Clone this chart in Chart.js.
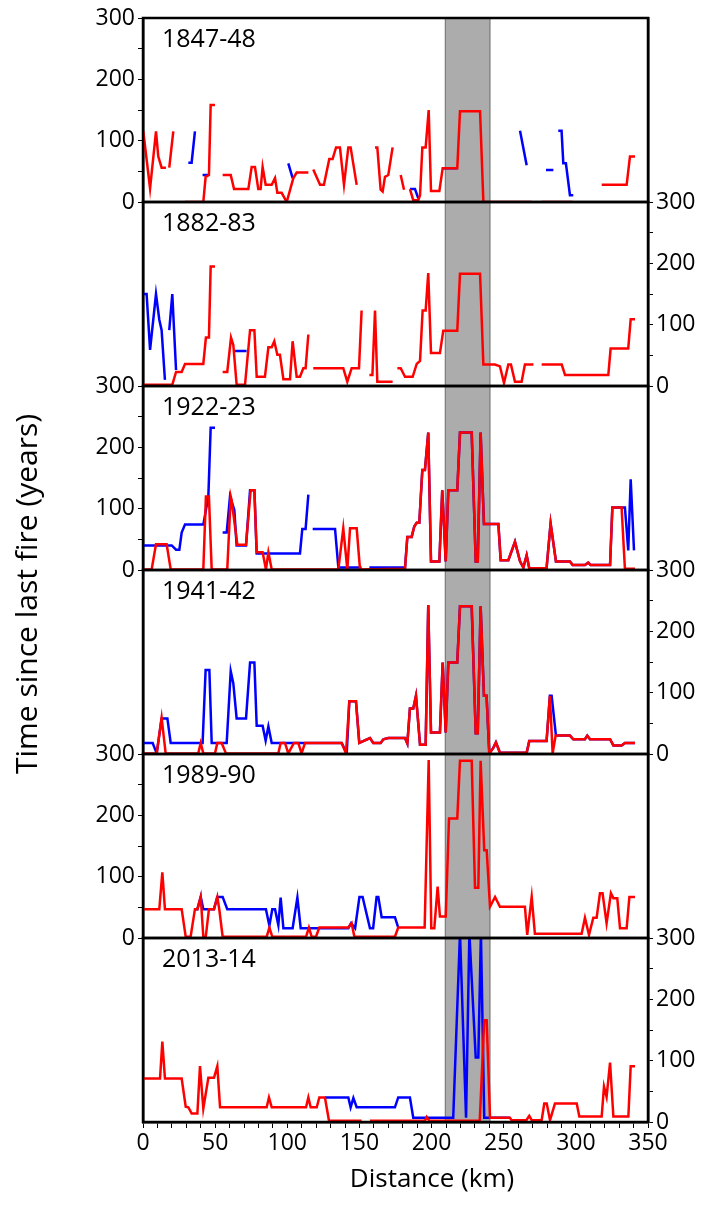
<!DOCTYPE html>
<html>
<head>
<meta charset="utf-8">
<script src="https://cdn.jsdelivr.net/npm/chart.js@4.4.0/dist/chart.umd.min.js"></script>
<style>
html, body { margin: 0; padding: 0; background: #fff; }
#fireChart { display: block; }
</style>
</head>
<body>
<canvas id="fireChart" width="721" height="1207"></canvas>
<script>
// panels, top to bottom
var seasons = ['1847-48', '1882-83', '1922-23', '1941-42', '1989-90', '2013-14'];
var distanceTicks = [0, 50, 100, 150, 200, 250, 300, 350];
var timeTicks = [0, 100, 200, 300];
var bandStart = 209.5, bandEnd = 240.5; // shaded zone, km

// [distance km, years since last fire], null = gap
var red1847 = [[0.2,115],[4.9,22],[9.0,115],[10.6,74],[12.9,56],[15.9,56],null,
  [18.2,56],[21.0,115],null,
  [29.1,0],[41.8,0],[43.4,41],[45.7,44],[46.9,158],[49.9,158],null,
  [55.2,44],[60.8,44],[63.1,21],[73.0,21],[75.3,57],[77.6,57],[79.9,21],[81.5,21],[82.9,57],[85.0,28],[89.2,28],[91.5,39],[93.1,15],[96.1,15],[99.6,0],[104.2,39],[106.5,48],[114.6,48],null,
  [118.0,53],[122.7,28],[125.4,28],[129.1,70],[131.4,70],[133.8,89],[136.5,89],[139.3,28],[142.3,89],[143.9,89],[148.1,28],null,
  [160.8,89],[162.4,89],[164.7,20],[166.1,17],[167.7,41],[170.0,44],[173.0,89],null,
  [178.6,44],[180.9,20],null,
  [185.0,21],[187.3,3],[190.8,3],[192.0,11],[193.6,89],[195.9,89],[198.0,150],[199.6,18],[205.4,18],[207.7,55],[217.8,55],[219.7,148],[233.6,148],[235.9,0],[269.3,0],null,
  [276.3,0],[297.7,0],null,
  [317.9,28],[335.2,28],[337.5,74],[341.0,74]];
var blue1847 = [[31.4,64],[33.7,64],[36.0,115],null,
  [41.3,44],[45.3,44],null,
  [100.7,63],[103.7,39],null,
  [185.0,21],[188.5,21],[190.8,6],null,
  [207.7,55],[217.8,55],null,
  [261.3,116],[265.9,60],null,
  [279.3,52],[284.4,52],null,
  [287.8,116],[290.1,116],[291.3,63],[293.1,63],[295.9,11],[298.2,11]];

var red1882 = [[0.2,2],[20.3,2],[22.9,23],[26.8,23],[29.1,36],[41.8,36],[43.6,79],[45.7,79],[46.9,195],[49.9,195],null,
  [55.2,23],[58.4,23],[61.0,79],[62.6,67],[64.9,2],[70.7,2],[74.2,91],[77.2,91],[78.8,15],[84.5,15],[86.9,63],[89.2,63],[91.0,73],[93.1,51],[94.9,51],[97.3,11],[101.9,11],[103.7,73],[106.5,15],[108.8,15],[111.1,29],[112.7,29],[114.6,84],null,
  [118.0,29],[138.8,29],[141.6,7],[144.6,29],[149.7,29],[151.5,123],null,
  [156.9,18],[159.0,18],[160.8,123],[162.4,7],[173.0,7],null,
  [176.3,29],[178.6,29],[181.6,15],[186.9,15],[189.7,36],[192.0,41],[193.8,123],[195.9,123],[197.7,184],[199.6,54],[205.8,54],[208.1,90],[217.8,90],[219.7,183],[233.6,183],[235.9,35],[244.0,35],[247.4,32],[250.2,5],[253.2,35],[255.0,35],[257.8,7],[262.4,7],[264.7,35],[270.6,35],null,
  [276.3,35],[290.2,35],[292.5,18],[322.5,18],[324.1,61],[336.3,61],[338.0,109],[341.0,109]];
var blue1882 = [[0.2,150],[2.5,150],[4.9,59],[9.0,150],[11.3,108],[12.9,91],[15.2,10],null,
  [18.2,91],[20.3,150],[22.9,26],null,
  [63.8,57],[71.8,57]];

var red1922 = [[0.2,1],[6.0,1],[9.0,42],[16.4,42],[19.2,1],[41.8,1],[43.6,120],[45.7,120],[47.6,1],[58.4,1],[60.8,120],[61.4,114],[65.4,41],[71.4,41],[74.6,130],[77.2,130],[78.8,29],[82.9,29],[85.2,1],[86.9,29],[89.2,1],[135.4,1],[138.8,68],[141.6,1],[143.5,68],[148.1,68],[150.4,1],[181.6,2],
  [183.2,54],[186.2,54],[188.0,71],[189.7,77],[191.5,77],[193.6,163],[195.4,163],[197.7,224],[199.6,14],[205.4,14],[207.4,130],[209.8,14],[211.6,130],[217.8,130],[219.7,224],[227.8,224],[230.6,14],[232.0,14],[234.0,224],[236.3,75],[246.3,75],[247.9,16],[253.2,16],[257.8,46],[261.3,14],[263.6,4],[265.9,24],[267.7,3],[279.7,3],[282.5,76],[286.2,14],[295.9,14],[297.8,8],[306.3,8],[308.6,12],[310.3,8],[323.7,8],[325.3,102],[331.7,102],[334.0,2],[341.0,2]];
var blue1922 = [[0.2,40],[19.9,40],[22.9,33],[25.2,33],[26.8,61],[29.1,74],[41.8,74],[45.3,120],[46.9,232],[49.9,232],null,
  [55.2,61],[58.0,61],[60.3,120],[63.3,98],[64.9,40],[71.4,40],[74.2,130],[77.2,130],[78.8,27],[108.8,27],[110.4,67],[112.7,67],[114.6,123],null,
  [117.6,67],[133.1,67],[135.4,4],[151.5,4],null,
  [156.9,4],[181.6,4],[183.2,54],[186.2,54],[188.0,71],[189.7,77],[191.5,77],[193.6,163],[195.4,163],[197.7,224],[199.6,14],[205.4,14],[207.4,130],[209.8,14],[211.6,130],[217.8,130],[219.7,224],[227.8,224],[230.6,14],[232.0,14],[234.0,224],[236.3,75],[246.3,75],[247.9,16],[253.2,16],[257.8,46],[261.3,14],[263.6,4],[265.9,24],[267.7,3],[279.7,3],[282.5,76],[286.2,14],[295.9,14],[297.8,8],[306.3,8],[308.6,12],[310.3,8],[323.7,8],[325.3,102],[334.0,102],[336.3,32],[338.0,148],[340.3,32]];

var red1941 = [[0.2,1],[9.5,1],[12.9,59],[15.7,1],[38.3,1],[40.0,18],[41.8,1],[49.9,1],[51.5,18],[54.5,18],[57.5,1],[93.8,1],[95.4,18],[98.4,18],[100.7,1],[104.6,18],[107.6,18],[109.9,1],[112.3,18],[137.7,18],[140.7,1],[143.0,86],[147.6,86],[149.9,18],[157.3,26],[159.6,18],[164.7,18],[166.6,24],[170.0,26],[181.6,26],[183.2,17],[185.0,74],[187.3,74],[189.2,95],[192.0,15],[195.9,15],[197.7,243],[199.6,35],[205.8,35],[207.7,149],[209.8,35],[211.6,149],[217.8,149],[219.7,241],[227.8,241],[230.6,34],[232.0,34],[234.0,241],[236.3,95],[238.1,95],[240.0,1],[242.8,10],[244.6,19],[247.4,2],[265.9,2],[267.7,21],[279.7,21],[282.0,95],[283.9,1],[286.0,30],[295.9,30],[298.2,24],[306.3,24],[307.9,30],[309.8,24],[323.7,24],[326.0,14],[331.7,14],[334.0,18],[341.0,18]];
var blue1941 = [[0.2,18],[6.7,18],[9.5,1],[12.9,58],[16.9,58],[19.2,18],[41.3,18],[43.4,137],[46.0,137],[47.6,18],[58.0,18],[60.8,135],[62.6,115],[64.9,58],[71.4,58],[74.2,149],[77.2,149],[78.8,46],[82.9,46],[85.0,22],[86.9,45],[89.2,18],[137.7,18],[141.2,1],[143.0,86],[147.6,86],[149.9,18],[157.3,26],[159.6,18],[164.7,18],[166.6,24],[170.0,26],[181.6,26],[183.2,17],[185.0,74],[187.3,74],[189.2,95],[192.0,15],[195.9,15],[197.7,243],[199.6,35],[205.8,35],[207.7,149],[209.8,35],[211.6,149],[217.8,149],[219.7,241],[227.8,241],[230.6,34],[232.0,34],[234.0,241],[236.3,95],[238.1,95],[240.0,1],[242.8,10],[244.6,19],[247.4,2],[265.9,2],[267.7,21],[279.7,21],[282.0,95],[283.2,95],[286.2,30],[295.9,30],[298.2,24],[306.3,24],[307.9,30],[309.8,24],[323.7,24],[326.0,14],[331.7,14],[334.0,18],[341.0,18]];

var red1989 = [[0.2,47],[11.3,47],[13.4,107],[15.2,47],[26.8,47],[29.6,2],[33.0,2],[36.0,47],[37.7,47],[40.0,67],[41.8,2],[43.5,2],[45.7,47],[49.2,47],[51.5,67],[52.9,46],[55.2,2],[85.7,2],[87.6,17],[89.6,2],[113.0,2],[115.0,17],[116.9,2],[119.9,2],[122.2,17],[142.3,17],[144.6,24],[146.5,2],[174.6,2],[176.9,17],[195.2,17],[198.0,290],[199.8,16],[201.9,16],[204.2,84],[205.8,35],[209.8,35],[212.1,195],[217.8,195],[219.7,289],[227.8,289],[230.1,82],[232.4,82],[234.0,289],[236.5,143],[238.2,143],[240.5,51],[244.0,67],[247.4,51],[264.7,51],[266.3,5],[269.4,67],[271.6,7],[304.0,7],[306.3,33],[309.1,5],[312.1,33],[314.4,33],[316.7,73],[318.5,73],[321.3,24],[324.3,73],[326.0,65],[328.7,65],[330.6,16],[335.2,16],[337.1,67],[341.0,67]];
var blue1989 = [[36.0,47],[37.7,47],[40.0,67],[41.8,47],[49.2,47],[51.5,67],[55.2,67],[58.4,47],[85.2,47],[87.6,20],[89.6,47],[91.5,47],[93.8,21],[95.4,66],[97.3,16],[103.7,16],[107.0,66],[109.3,16],[142.3,16],[144.2,24],[147.0,16],[150.0,67],[152.2,67],[157.3,16],[159.5,16],[161.9,67],[163.1,67],[165.4,34],[174.6,34],[176.9,17]];

var red2013 = [[0.2,71],[11.8,71],[13.4,131],[15.2,71],[26.8,71],[29.6,25],[31.4,24],[33.7,14],[37.7,14],[39.5,91],[41.8,22],[45.3,72],[49.2,72],[51.5,91],[53.4,24],[85.7,24],[87.3,40],[89.2,24],[113.0,24],[114.6,40],[116.2,24],[120.4,24],[122.2,40],[126.1,40],[128.9,2],[151.5,2],null,
  [157.3,2],[195.4,2],[196.6,8],[198.4,2],[233.4,2],[236.5,166],[238.2,166],[240.5,7],[254.3,7],[255.4,3],[265.7,3],[267.7,10],[269.4,3],[276.3,3],[278.1,30],[279.8,30],[282.1,3],[285.5,30],[300.6,30],[302.4,9],[317.9,9],[319.5,58],[321.3,41],[323.7,97],[326.0,9],[336.4,9],[338.0,91],[341.0,91]];
var blue2013 = [[126.1,40],[142.3,40],[143.9,24],[145.8,39],[148.1,24],[174.6,24],[176.9,40],[185.0,40],[187.3,7],[215.0,7],[219.7,308],[223.9,7],[226.2,308],[230.6,105],[232.4,105],[234.2,308],[236.5,7],[254.3,7]];

var redSeries = [red1847, red1882, red1922, red1941, red1989, red2013];
var blueSeries = [blue1847, blue1882, blue1922, blue1941, blue1989, blue2013];

var FONT = '"Open Sans", sans-serif';

function toPoints(arr) {
    var out = [], lastX = 0;
    arr.forEach(function (p) {
        if (p) { lastX = p[0]; out.push({x: p[0], y: p[1]}); }
        else { out.push({x: lastX, y: null}); }
    });
    return out;
}

var datasets = [];
seasons.forEach(function (s, i) {
    datasets.push({
        label: s + ' red', data: toPoints(redSeries[i]), yAxisID: 'y' + i,
        borderColor: '#ff0000', borderWidth: 2.5, pointRadius: 0, spanGaps: false, order: 1
    });
    datasets.push({
        label: s + ' blue', data: toPoints(blueSeries[i]), yAxisID: 'y' + i,
        borderColor: '#0000ff', borderWidth: 2.5, pointRadius: 0, spanGaps: false, order: 2
    });
});

var scales = {
    x: {
        type: 'linear', position: 'bottom', min: 0, max: 350,
        ticks: {
            stepSize: 10, autoSkip: false, maxRotation: 0, color: '#000', padding: 2,
            font: {family: FONT, size: 23},
            callback: function (v) { return distanceTicks.indexOf(v) >= 0 ? String(v) : ''; }
        },
        grid: {drawOnChartArea: false, color: '#000', tickLength: 6, lineWidth: 1},
        border: {color: '#000', width: 2.5},
        afterFit: function (s) { s.height = 85; }
    }
};

seasons.forEach(function (s, i) {
    var labelLeft = i % 2 === 0;
    function yAxis(pos, showLabels, w, weight) {
        return {
            type: 'linear', position: pos, stack: pos, stackWeight: 1, weight: weight,
            min: 0, max: 300,
            ticks: {
                display: showLabels, stepSize: 50, autoSkip: false, color: '#000', padding: 3,
                font: {family: FONT, size: 23},
                callback: function (v) { return timeTicks.indexOf(v) >= 0 ? String(v) : ''; }
            },
            grid: {display: showLabels, drawOnChartArea: false, color: '#000', tickLength: 5, lineWidth: 1},
            border: {color: '#000', width: 2.5},
            afterFit: function (sc) { sc.width = w; }
        };
    }
    scales['y' + i] = yAxis('left', labelLeft, 143, 10 - i);
    scales['r' + i] = yAxis('right', !labelLeft, 73, i);
});

var panelDecor = {
    id: 'panelDecor',
    beforeDatasetsDraw: function (chart) {
        var ctx = chart.ctx, a = chart.chartArea, xs = chart.scales.x;
        var x0 = xs.getPixelForValue(bandStart), x1 = xs.getPixelForValue(bandEnd);
        ctx.save();
        ctx.fillStyle = '#acacac';
        ctx.fillRect(x0, a.top, x1 - x0, a.bottom - a.top);
        ctx.strokeStyle = '#6a6a6a';
        ctx.lineWidth = 1;
        ctx.beginPath();
        ctx.moveTo(x0, a.top); ctx.lineTo(x0, a.bottom);
        ctx.moveTo(x1, a.top); ctx.lineTo(x1, a.bottom);
        ctx.stroke();
        ctx.restore();
    },
    afterDatasetsDraw: function (chart) {
        var ctx = chart.ctx, a = chart.chartArea;
        ctx.save();
        ctx.strokeStyle = '#000';
        ctx.lineWidth = 2.5;
        ctx.fillStyle = '#000';
        ctx.font = '25px ' + FONT;
        ctx.textBaseline = 'middle';
        ctx.textAlign = 'left';
        seasons.forEach(function (s, i) {
            var sc = chart.scales['y' + i];
            ctx.strokeRect(a.left, sc.top, a.right - a.left, sc.bottom - sc.top);
            ctx.fillText(s, a.left + 19, sc.top + 22);
        });
        ctx.restore();
    },
    afterDraw: function (chart) {
        var ctx = chart.ctx;
        ctx.save();
        ctx.fillStyle = '#000';
        ctx.textAlign = 'center';
        ctx.textBaseline = 'middle';
        ctx.font = '26px ' + FONT;
        ctx.fillText('Distance (km)', 432, 1180);
        ctx.translate(28, 594);
        ctx.rotate(-Math.PI / 2);
        ctx.font = '30px ' + FONT;
        ctx.fillText('Time since last fire (years)', 0, 0);
        ctx.restore();
    }
};

var canvas = document.getElementById('fireChart');
var chart = new Chart(canvas.getContext('2d'), {
    type: 'line',
    data: {datasets: datasets},
    options: {
        responsive: false,
        animation: false,
        layout: {padding: {top: 18, left: 0, right: 0, bottom: 0}},
        plugins: {legend: {display: false}, tooltip: {enabled: false}},
        elements: {line: {tension: 0}},
        scales: scales
    },
    plugins: [panelDecor]
});
</script>
</body>
</html>
